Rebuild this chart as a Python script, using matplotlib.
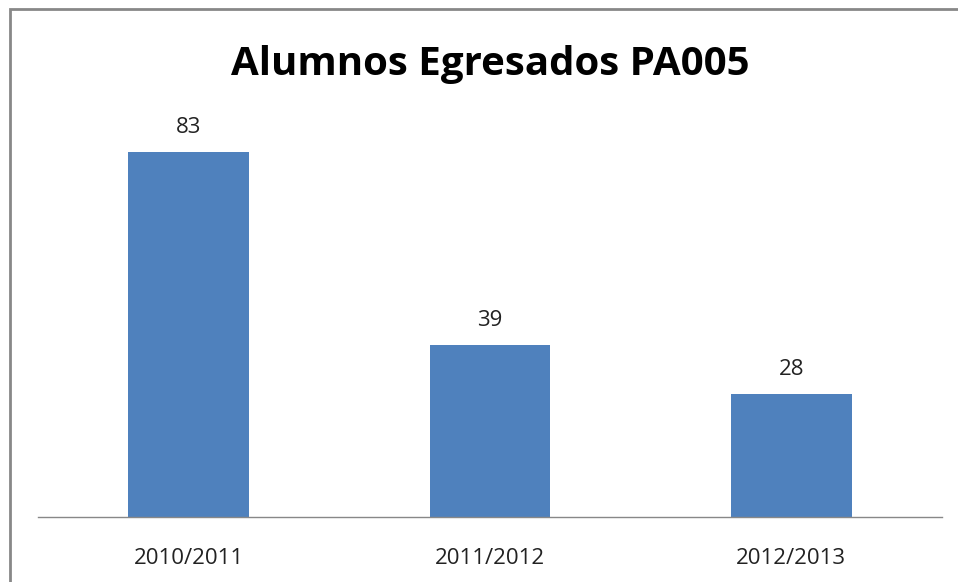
import matplotlib.pyplot as plt
from matplotlib.patches import Rectangle

years = ['2010/2011', '2011/2012', '2012/2013']
egresados = [83, 39, 28]

W, H = 958, 582
fig = plt.figure(figsize=(W / 100, H / 100), dpi=100)
fig.patch.set_facecolor('white')

# outer chart frame: only top and left edges are visible in the crop
fig.patches.append(Rectangle((9.5 / W, -0.1), 1.2, (H - 8.5) / H + 0.1,
                             transform=fig.transFigure, fill=False,
                             edgecolor='#888888', linewidth=2))

# plot area, baseline at y=517px, 0..90 scale
ax = fig.add_axes([38 / W, (H - 517) / H, (942 - 38) / W, (517 - 121) / H])
x = range(len(years))
bars = ax.bar(x, egresados, width=0.4, color='#4F81BD')
ax.set_xlim(-0.5, len(years) - 0.5)
ax.set_ylim(0, 90)

for b, v in zip(bars, egresados):
    ax.text(b.get_x() + b.get_width() / 2, v + 3.2, str(v), ha='center',
            va='bottom', fontsize=16, family='Open Sans', color='#222222')

ax.set_xticks(list(x))
ax.set_xticklabels(years, fontsize=16, family='Open Sans', color='#222222')
ax.tick_params(axis='x', length=0, pad=22)
ax.set_yticks([])
for s in ['top', 'right', 'left']:
    ax.spines[s].set_visible(False)
ax.spines['bottom'].set_color('#888888')
ax.spines['bottom'].set_linewidth(1)

fig.text(490 / W, 1 - 64 / H, 'Alumnos Egresados PA005', ha='center',
         va='center', fontsize=29, fontweight='bold', family='Open Sans')

fig.savefig('out.png', dpi=100)
